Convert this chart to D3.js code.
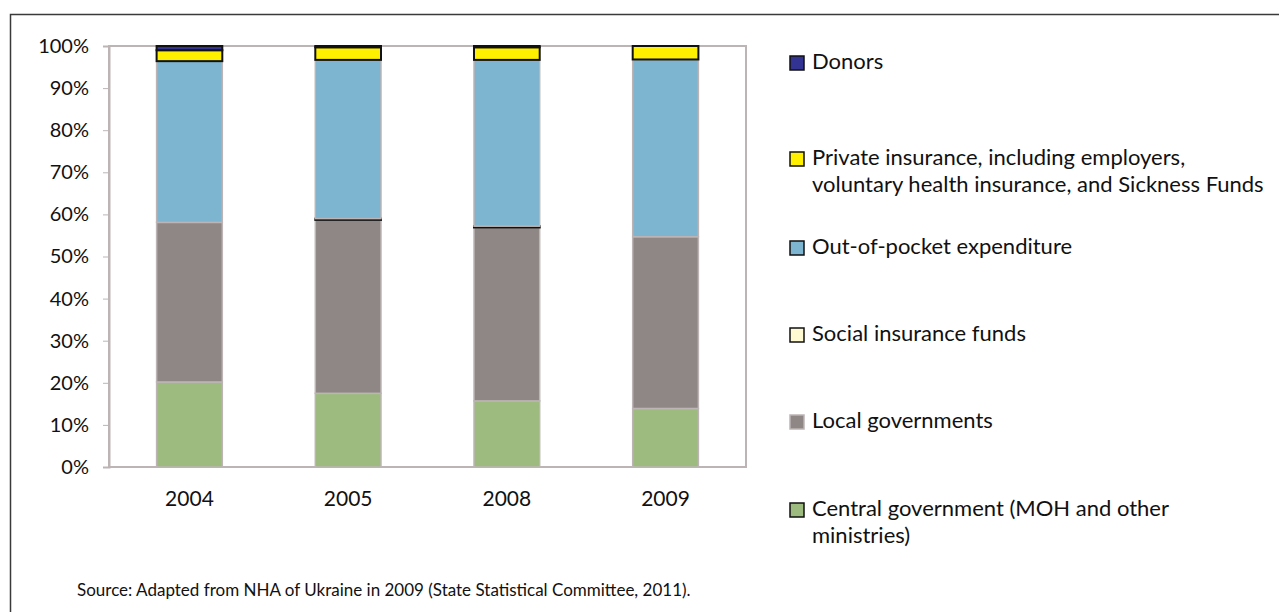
<!DOCTYPE html>
<html>
<head>
<meta charset="utf-8">
<script src="https://cdn.jsdelivr.net/npm/d3@7"></script>
<style>
  body { margin: 0; background: #fff; }
  svg { display: block; }
  text { font-family: Lato, "Open Sans", sans-serif; fill: #111; }
</style>
</head>
<body>
<div id="container"></div>
<script>
// shares of total health expenditure, %
const years = ['2004', '2005', '2008', '2009'];
const central = [20.2, 17.5, 15.7, 13.9];
const local = [37.9, 41.2, 41.2, 40.8];
const social = [0, 0.3, 0.3, 0];
const outOfPocket = [38.3, 37.7, 39.5, 42.1];
const privateIns = [2.6, 3.0, 3.0, 3.2];
const donors = [1.0, 0.3, 0.3, 0];
const yTicks = [0, 10, 20, 30, 40, 50, 60, 70, 80, 90, 100];

const seriesNames = ['central', 'local', 'social', 'oop', 'private', 'donors'];
const seriesValues = [central, local, social, outOfPocket, privateIns, donors];
const fills = {
    central: '#9dbb7e', local: '#8f8785', social: '#fffad2',
    oop: '#7db4d0', private: '#fff000', donors: '#333393'
};
const strokes = {
    central: '#bdb5b5', local: '#bdb5b5', social: '#111',
    oop: '#bdb5b5', private: '#111', donors: '#111'
};

const legendItems = [
    { key: 'donors', lines: ['Donors'], y: 61 },
    { key: 'private', lines: ['Private insurance, including employers,', 'voluntary health insurance, and Sickness Funds'], y: 157 },
    { key: 'oop', lines: ['Out-of-pocket expenditure'], y: 246 },
    { key: 'social', lines: ['Social insurance funds'], y: 333 },
    { key: 'local', lines: ['Local governments'], y: 420 },
    { key: 'central', lines: ['Central government (MOH and other', 'ministries)'], y: 508 }
];

const table = years.map((yr, i) => {
    const row = { year: yr };
    seriesNames.forEach((s, j) => { row[s] = seriesValues[j][i]; });
    return row;
});

const W = 1279, H = 612;
const svg = d3.select('#container').append('svg')
    .attr('width', W)
    .attr('height', H);

// outer frame
svg.append('path')
    .attr('d', `M10.5,${H} V14.5 H${W}`)
    .attr('fill', 'none')
    .attr('stroke', '#3a3a3a')
    .attr('stroke-width', 1.5);

const plotL = 109, plotR = 746, plotT = 46, plotB = 467;

const x = d3.scaleBand().domain(years).range([plotL, plotR]).paddingInner(0.586).paddingOuter(0.3);
const y = d3.scaleLinear().domain([0, 100]).range([plotB, plotT]);

// plot area border
svg.append('rect')
    .attr('x', plotL).attr('y', plotT)
    .attr('width', plotR - plotL).attr('height', plotB - plotT)
    .attr('fill', 'none')
    .attr('stroke', '#bdb5b5')
    .attr('stroke-width', 2);

const stack = d3.stack().keys(seriesNames)(table);

const layers = svg.append('g').selectAll('g')
    .data(stack)
    .join('g')
    .attr('fill', d => fills[d.key])
    .attr('stroke', d => strokes[d.key])
    .attr('stroke-width', d => strokes[d.key] === '#111' ? 2 : 1.5);

layers.selectAll('rect')
    .data(d => d.filter(p => p[1] - p[0] > 0))
    .join('rect')
    .attr('x', d => x(d.data.year))
    .attr('width', x.bandwidth())
    .attr('y', d => y(d[1]))
    .attr('height', d => Math.max(0, y(d[0]) - y(d[1])));

// y axis
const yAxis = svg.append('g')
    .attr('transform', `translate(${plotL},0)`)
    .call(d3.axisLeft(y).tickValues(yTicks).tickFormat(d => d + '%').tickSize(6).tickPadding(14));
yAxis.select('.domain').attr('stroke', '#bdb5b5').attr('stroke-width', 2);
yAxis.selectAll('.tick line').attr('stroke', '#bdb5b5');
yAxis.selectAll('.tick text')
    .style('font-size', '20px')
    .attr('fill', '#111');

// x axis labels
const xAxis = svg.append('g')
    .attr('transform', `translate(0,${plotB})`)
    .call(d3.axisBottom(x).tickSize(0).tickPadding(24));
xAxis.select('.domain').remove();
xAxis.selectAll('.tick text')
    .style('font-size', '21px')
    .attr('fill', '#111');

// legend
const lg = svg.append('g');
legendItems.forEach(item => {
    const g = lg.append('g').attr('transform', `translate(790,${item.y})`);
    g.append('rect')
        .attr('x', 0).attr('y', -5)
        .attr('width', 14).attr('height', 14)
        .attr('fill', fills[item.key])
        .attr('stroke', item.key === 'local' ? '#bdb5b5' : '#111')
        .attr('stroke-width', 1.5);
    item.lines.forEach((ln, k) => {
        g.append('text')
            .attr('x', 22)
            .attr('y', k * 27)
            .attr('dy', '0.35em')
            .style('font-size', '22px')
            .text(ln);
    });
});

// source note
svg.append('text')
    .attr('x', 77)
    .attr('y', 590)
    .attr('dy', '0.35em')
    .style('font-size', '17px')
    .text('Source: Adapted from NHA of Ukraine in 2009 (State Statistical Committee, 2011).');
</script>
</body>
</html>
